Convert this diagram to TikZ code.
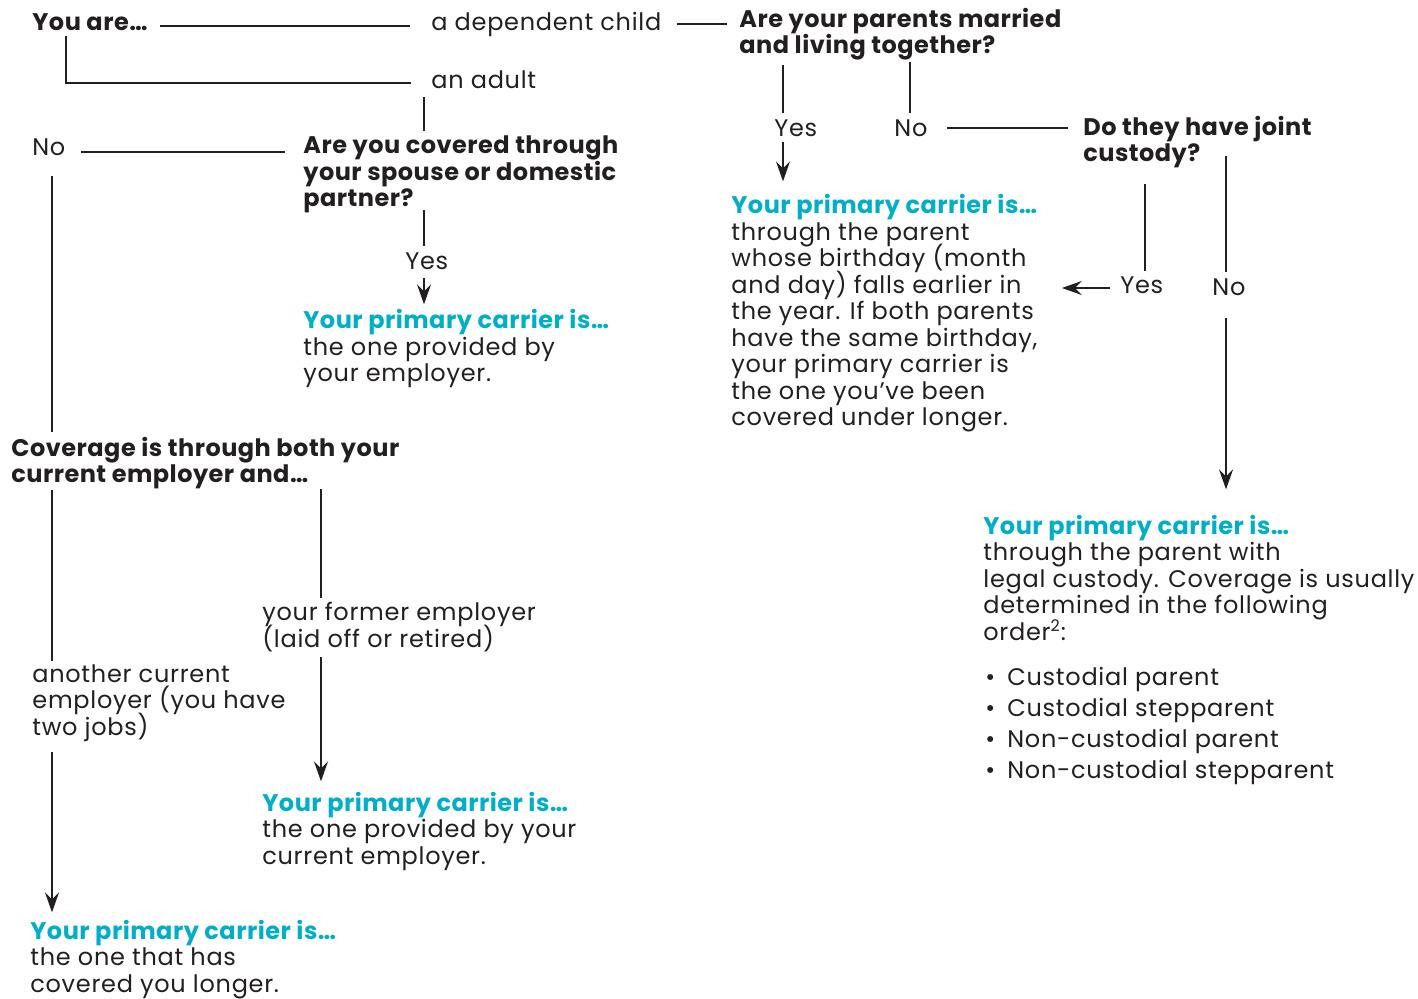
\documentclass[tikz,border=0pt]{standalone}
\usepackage{fontspec}
\setmainfont{Poppins}[LetterSpace=3, BoldFeatures={LetterSpace=2}]
\usetikzlibrary{arrows.meta}

\definecolor{ink}{HTML}{231F20}
\definecolor{carrierblue}{RGB}{0,174,199}
\newcommand\carrierhead{{\bfseries\color{carrierblue}Your primary carrier is…}}
\newcommand\listitem[1]{\makebox[11pt][l]{\textbullet}#1}
\newcommand\flowfont{\fontsize{12}{13.25}\selectfont\lineskiplimit=-20pt\relax}

\begin{document}
\begin{tikzpicture}
[
x=0.5pt, y=-0.5pt,
>={Stealth[length=10pt,width=7pt,inset=3.5pt]},
link/.style={draw=ink, line width=1.2pt},
txt/.style={anchor=base west, inner sep=0pt, text=ink, align=left, font=\flowfont},
word/.style={txt, text height=8.5pt, text depth=2.5pt},
ask/.style={txt, font=\flowfont\bfseries},
]
\useasboundingbox (0,0) rectangle (1418,999);

% columns and rows the connectors run along
\coordinate (c1) at (52,0);
\coordinate (c2) at (66,0);
\coordinate (c3) at (321,0);
\coordinate (c4) at (424,0);
\coordinate (c5) at (783,0);
\coordinate (c6) at (910,0);
\coordinate (c7) at (1145,0);
\coordinate (c8) at (1226,0);
\coordinate (r1) at (0,26);
\coordinate (r2) at (0,24);
\coordinate (r3) at (0,83);
\coordinate (r4) at (0,152);
\coordinate (r5) at (0,128);
\coordinate (r6) at (0,288);

% left half (multi-line nodes sit on their last baseline)
\node (youare) [word, font=\flowfont\bfseries] at (32,31) {You are…};
\node (child) [word] at (431,31) {a dependent child};
\node (adult) [word] at (431,89) {an adult};
\node (no1) [word] at (32,156) {No};
\node (spouse) [ask] at (303,207) {Are you covered through\\your spouse or domestic\\partner?};
\node (yes1) [word] at (405,270) {Yes};
\node (res1) [txt] at (303,382) {\carrierhead\\the one provided by\\your employer.};
\node (both) [ask] at (11,483) {Coverage is through both your\\current employer and…};
\node (another) [txt] at (32,735) {another current\\employer (you have\\two jobs)};
\node (former) [txt] at (262,647) {your former employer\\(laid off or retired)};
\node (res2) [txt] at (262,864) {\carrierhead\\the one provided by your\\current employer.};
\node (res3) [txt] at (30,992) {\carrierhead\\the one that has\\covered you longer.};

% right half
\node (married) [ask] at (739,54) {Are your parents married\\and living together?};
\node (yes2) [word] at (774,137) {Yes};
\node (no2) [word] at (894,137) {No};
\node (joint) [ask] at (1083,162) {Do they have joint\\custody?};
\node (res4) [txt] at (731,426) {\carrierhead\\through the parent\\whose birthday (month\\and day) falls earlier in\\the year. If both parents\\have the same birthday,\\your primary carrier is\\the one you’ve been\\covered under longer.};
\node (yes3) [word] at (1120,294) {Yes};
\node (no3) [word] at (1212,296) {No};
\node (res5) [txt] at (983,640) {\carrierhead\\through the parent with\\legal custody. Coverage is usually\\determined in the following\\order\textsuperscript{2}:};
\node (order) [txt, font=\fontsize{12}{15.4}\selectfont] at (985,778) {\listitem{Custodial parent}\\\listitem{Custodial stepparent}\\\listitem{Non-custodial parent}\\\listitem{Non-custodial stepparent}};

% connectors
\draw [link, shorten <=6pt, shorten >=10.5pt] (youare.east |- r1) -- (child.west |- r1);
\draw [link, shorten <=7.5pt, shorten >=6pt] (child.east |- r2) -- (married.west |- r2);
\draw [link, shorten >=10pt] (youare.south -| c2) |- (adult.west |- r3);
\draw [link, shorten <=1.5pt, shorten >=2.5pt] (adult.south -| c4) -- (spouse.north -| c4);
\draw [link, shorten <=9pt, shorten >=7.5pt] (spouse.west |- r4) -- (no1.east |- r4);
\draw [link, shorten <=-2pt, shorten >=3.5pt] (spouse.south -| c4) -- (yes1.north -| c4);
\draw [link, ->, shorten <=1.5pt, shorten >=2.5pt] (yes1.south -| c4) -- (res1.north -| c4);
\draw [link, shorten <=7.5pt, shorten >=2.5pt] (no1.south -| c1) -- (both.north -| c1);
\draw [link, shorten >=1.5pt] (both.south -| c1) -- (another.north -| c1);
\draw [link, ->, shorten <=5pt, shorten >=3.5pt] (another.south -| c1) -- (res3.north -| c1);
\draw [link, shorten <=-0.5pt, shorten >=2pt] (both.south -| c3) -- (former.north -| c3);
\draw [link, ->, shorten <=2.5pt, shorten >=5pt] (former.south -| c3) -- (res2.north -| c3);
\draw [link, shorten <=2pt, shorten >=3.5pt] (married.south -| c5) -- (yes2.north -| c5);
\draw [link, ->, shorten >=6.5pt] (yes2.south -| c5) -- (res4.north -| c5);
\draw [link, shorten <=0.5pt, shorten >=3.5pt] (married.south -| c6) -- (no2.north -| c6);
\draw [link, shorten <=9.5pt, shorten >=7.5pt] (no2.east |- r5) -- (joint.west |- r5);
\draw [link, shorten <=7.5pt, shorten >=3pt] (joint.south -| c7) -- (yes3.north -| c7);
\draw [link, ->, shorten <=5pt, shorten >=12pt] (yes3.west |- r6) -- (res4.east |- r6);
\draw [link, shorten <=-6.5pt, shorten >=3.5pt] (joint.south -| c8) -- (no3.north -| c8);
\draw [link, ->, shorten <=8.5pt, shorten >=12.5pt] (no3.south -| c8) -- (res5.north -| c8);
\end{tikzpicture}
\end{document}
